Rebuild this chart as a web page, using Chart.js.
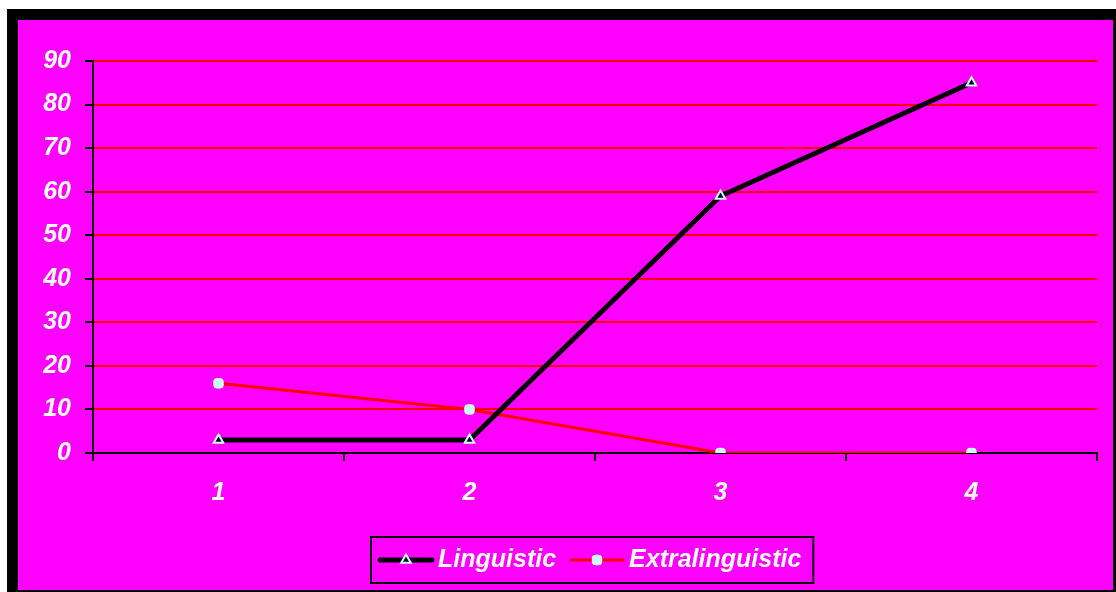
<!DOCTYPE html>
<html>
<head>
<meta charset="utf-8">
<script src="https://cdn.jsdelivr.net/npm/chart.js@4"></script>
<style>
  html, body { margin: 0; padding: 0; background: #ffffff; }
  #wrap { position: relative; width: 1116px; height: 592px; }
</style>
</head>
<body>
<div id="wrap"><canvas id="c" width="1116" height="592"></canvas></div>
<script>
// Chart data
const categories = ['1', '2', '3', '4'];
const linguistic = [3, 3, 59, 85];
const extralinguistic = [16, 10, 0, 0];
const seriesNames = ['Linguistic', 'Extralinguistic'];
const yTicks = [0, 10, 20, 30, 40, 50, 60, 70, 80, 90];

const MAGENTA = '#ff00ff';
const MARKER = '#ccffff';
const FONT_FAMILY = '"Liberation Sans", Arial, Helvetica, sans-serif';
const FONT_SIZE = 25;
const labelFont = { family: FONT_FAMILY, size: FONT_SIZE, weight: 'bold', style: 'italic' };

// Black-framed magenta panel behind the chart
const framePlugin = {
  id: 'frame',
  beforeDraw(chart) {
    const ctx = chart.ctx;
    ctx.save();
    ctx.fillStyle = '#ffffff';
    ctx.fillRect(0, 0, chart.width, chart.height);
    ctx.fillStyle = '#000000';
    ctx.fillRect(7, 9, chart.width - 7, chart.height - 9);
    ctx.fillStyle = MAGENTA;
    ctx.fillRect(18, 20, chart.width - 18 - 3, chart.height - 20 - 2);
    ctx.restore();
  }
};

// Boxed legend with line + marker samples
const boxLegendPlugin = {
  id: 'boxLegend',
  afterDraw(chart) {
    const ctx = chart.ctx;
    const cx = 592, cy = 560;
    const sampleW = 52, gapSample = 6, gapItems = 15, padL = 9, padR = 12;
    ctx.save();
    ctx.font = 'italic bold ' + FONT_SIZE + 'px ' + FONT_FAMILY;
    const items = chart.data.datasets.map(ds => ({ ds, w: ctx.measureText(ds.label).width }));
    let total = padL + padR;
    items.forEach((it, i) => { total += sampleW + gapSample + it.w + (i ? gapItems : 0); });
    const left = Math.round(cx - total / 2);
    ctx.fillStyle = MAGENTA;
    ctx.fillRect(left, 537, total, 46);
    ctx.lineWidth = 2;
    ctx.strokeStyle = '#000000';
    ctx.strokeRect(left, 537, total, 46);
    let x = left + padL;
    items.forEach((it, i) => {
      if (i) x += gapItems;
      const ds = it.ds;
      ctx.beginPath();
      ctx.lineWidth = ds.borderWidth;
      ctx.strokeStyle = ds.borderColor;
      ctx.lineCap = 'round';
      ctx.moveTo(x, cy);
      ctx.lineTo(x + sampleW, cy);
      ctx.stroke();
      ctx.lineCap = 'butt';
      ctx.fillStyle = ds.pointBackgroundColor;
      ctx.strokeStyle = ds.pointBorderColor;
      ctx.lineWidth = ds.pointBorderWidth;
      Chart.helpers.drawPoint(ctx, {
        pointStyle: ds.pointStyle,
        radius: ds.pointRadius,
        rotation: 0,
        borderWidth: ds.pointBorderWidth
      }, x + sampleW / 2, cy);
      x += sampleW + gapSample;
      ctx.fillStyle = '#ffffff';
      ctx.textBaseline = 'middle';
      ctx.textAlign = 'left';
      ctx.fillText(ds.label, x, cy);
      x += it.w;
    });
    ctx.restore();
  }
};

new Chart(document.getElementById('c'), {
  type: 'line',
  data: {
    labels: categories,
    datasets: [
      {
        label: seriesNames[0],
        data: linguistic,
        borderColor: '#000000',
        borderWidth: 5,
        pointStyle: 'triangle',
        pointRadius: 5.5,
        pointHoverRadius: 5.5,
        pointBackgroundColor: '#000033',
        pointBorderColor: MARKER,
        pointBorderWidth: 2,
        tension: 0
      },
      {
        label: seriesNames[1],
        data: extralinguistic,
        borderColor: '#ff0000',
        borderWidth: 3,
        pointStyle: 'rectRounded',
        pointRadius: 5.5,
        pointHoverRadius: 5.5,
        pointBackgroundColor: MARKER,
        pointBorderColor: MARKER,
        pointBorderWidth: 1,
        tension: 0
      }
    ]
  },
  options: {
    responsive: false,
    animation: false,
    layout: { padding: { left: 18, right: 19, top: 61, bottom: 0 } },
    plugins: {
      legend: { display: false },
      tooltip: { enabled: false }
    },
    scales: {
      x: {
        type: 'category',
        offset: true,
        grid: {
          offset: true,
          drawOnChartArea: false,
          drawTicks: true,
          tickLength: 8,
          tickColor: '#000000',
          lineWidth: 2
        },
        border: { color: '#000000', width: 2 },
        ticks: { color: '#ffffff', font: labelFont, padding: 17 },
        afterFit(scale) { scale.height = 139; }
      },
      y: {
        min: 0,
        max: 90,
        afterBuildTicks(scale) { scale.ticks = yTicks.map(v => ({ value: v })); },
        grid: {
          color: (c) => c.tick && c.tick.value === 0 ? 'rgba(0,0,0,0)' : '#ff0000',
          lineWidth: 2,
          drawTicks: true,
          tickLength: 8,
          tickColor: '#000000'
        },
        border: { color: '#000000', width: 2 },
        ticks: { color: '#ffffff', font: labelFont, padding: 14 },
        afterFit(scale) { scale.width = 75; }
      }
    }
  },
  plugins: [framePlugin, boxLegendPlugin]
});
</script>
</body>
</html>
